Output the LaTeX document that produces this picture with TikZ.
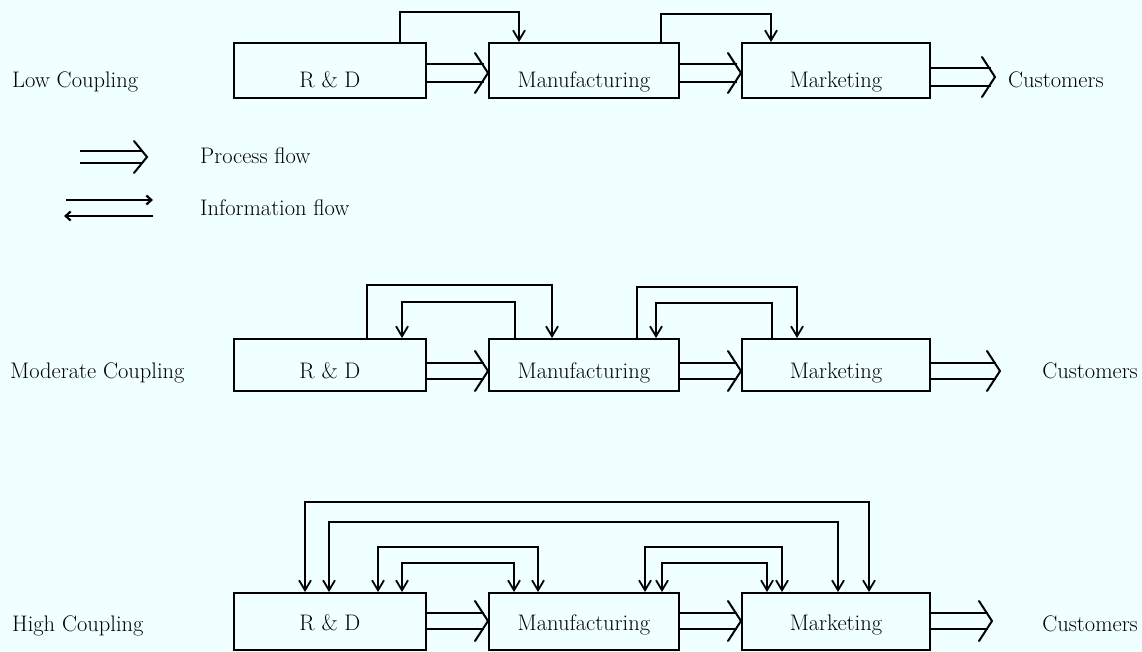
\documentclass[tikz,border=0pt]{standalone}
\usetikzlibrary{arrows.meta}
\definecolor{bg}{RGB}{240,255,255}
% process flow: two parallel lines and one straight chevron
\newcommand{\pflow}[4]{%
  \draw[pline] ([yshift=#3]#1) -- ([xshift=-4pt,yshift=#3]#2);
  \draw[pline] ([yshift=-#3]#1) -- ([xshift=-4pt,yshift=-#3]#2);
  \draw[chev] ([xshift=-13pt,yshift=#4]#2) -- (#2) -- ([xshift=-13pt,yshift=-#4]#2);}
\begin{document}
\begin{tikzpicture}[x=1pt,y=-1pt,
  txt/.style={font=\fontsize{22.5}{27}\selectfont, inner sep=0pt},
  lbl/.style={txt, anchor=base west},
  lblr/.style={txt, anchor=base east},
  box/.style={txt, draw, line width=1.8pt, anchor=north west, text depth=0pt},
  rowA/.style={box, minimum height=55pt, text height=35pt},
  rowB/.style={box, minimum height=52pt, text height=28pt},
  rowC/.style={box, minimum height=57pt, text height=19pt},
  wR/.style={minimum width=192pt},
  wF/.style={minimum width=190pt},
  wK/.style={minimum width=188pt},
  pline/.style={line width=2.4pt},
  chev/.style={line width=2pt, line cap=round, line join=miter},
  info/.style={line width=1.8pt, -{Straight Barb[length=10pt,width=12pt]}},
  infob/.style={line width=1.8pt, {Straight Barb[length=10pt,width=12pt]}-{Straight Barb[length=10pt,width=12pt]}},
  leg/.style={line width=2.2pt, -{Straight Barb[length=5pt,width=9pt]}}
]
\fill[bg] (0,0) rectangle (1142,652);
\useasboundingbox (0,0) rectangle (1142,652);

% ---------- Row 1: Low Coupling ----------
\node[lbl] (lc) at (12,88) {Low Coupling};
\node[rowA,wR] (rd1) at (233,42) {R \& D};
\node[rowA,wF] (mf1) at (488,42) {Manufacturing};
\node[rowA,wK] (mk1) at (741,42) {Marketing};
\node[lbl] (cu1) at (1008,88) {Customers};
\coordinate (a1) at (rd1.east |- 0,73);
\coordinate (b1) at (mf1.west |- 0,73);
\coordinate (c1) at (mf1.east |- 0,73);
\coordinate (d1) at (mk1.west |- 0,73);
\coordinate (f1) at (mk1.east |- 0,77);
\coordinate (e1) at (995,77);
\pflow{a1}{b1}{9pt}{20pt}
\pflow{c1}{d1}{9pt}{20pt}
\pflow{f1}{e1}{9pt}{20pt}
\draw[info] (rd1.north -| 400,0) |- (519,12) -- (mf1.north -| 519,0);
\draw[info] (mf1.north -| 661,0) |- (771,14) -- (mk1.north -| 771,0);

% ---------- Legend ----------
\coordinate (p1) at (80,157);
\coordinate (p2) at (147,157);
\pflow{p1}{p2}{6pt}{16pt}
\node[lbl] (pft) at (200,164) {Process flow};
\coordinate (i1) at (66,200);
\coordinate (i2) at (153,200);
\coordinate (i3) at (153,216);
\coordinate (i4) at (64,216);
\draw[leg] (i1) -- (i2);
\draw[leg] (i3) -- (i4);
\node[lbl] (ift) at (200,216) {Information flow};

% ---------- Row 2: Moderate Coupling ----------
\node[lbl] (mc) at (10,378) {Moderate Coupling};
\node[rowB,wR] (rd2) at (233,338) {R \& D};
\node[rowB,wF] (mf2) at (488,338) {Manufacturing};
\node[rowB,wK] (mk2) at (741,338) {Marketing};
\node[lblr] (cu2) at (1138,378) {Customers};
\coordinate (a2) at (rd2.east |- 0,371);
\coordinate (b2) at (mf2.west |- 0,371);
\coordinate (c2) at (mf2.east |- 0,371);
\coordinate (d2) at (mk2.west |- 0,371);
\coordinate (f2) at (mk2.east |- 0,371);
\coordinate (e2) at (1000,371);
\pflow{a2}{b2}{8pt}{20pt}
\pflow{c2}{d2}{8pt}{20pt}
\pflow{f2}{e2}{8pt}{20pt}
\draw[info] (rd2.north -| 367,0) |- (552,285) -- (mf2.north -| 552,0);
\draw[info] (mf2.north -| 515,0) |- (402,302) -- (rd2.north -| 402,0);
\draw[info] (mf2.north -| 637,0) |- (797,287) -- (mk2.north -| 797,0);
\draw[info] (mk2.north -| 772,0) |- (656,303) -- (mf2.north -| 656,0);

% ---------- Row 3: High Coupling ----------
\node[lbl] (hc) at (12,631) {High Coupling};
\node[rowC,wR] (rd3) at (233,592) {R \& D};
\node[rowC,wF] (mf3) at (488,592) {Manufacturing};
\node[rowC,wK] (mk3) at (741,592) {Marketing};
\node[lblr] (cu3) at (1138,631) {Customers};
\coordinate (a3) at (rd3.east |- 0,621);
\coordinate (b3) at (mf3.west |- 0,621);
\coordinate (c3) at (mf3.east |- 0,621);
\coordinate (d3) at (mk3.west |- 0,621);
\coordinate (f3) at (mk3.east |- 0,621);
\coordinate (e3) at (992,621);
\pflow{a3}{b3}{8pt}{20pt}
\pflow{c3}{d3}{8pt}{20pt}
\pflow{f3}{e3}{8pt}{20pt}
\draw[infob] (rd3.north -| 305,0) |- (869,502) -- (mk3.north -| 869,0);
\draw[infob] (rd3.north -| 329,0) |- (838,522) -- (mk3.north -| 838,0);
\draw[infob] (rd3.north -| 378,0) |- (538,547) -- (mf3.north -| 538,0);
\draw[infob] (rd3.north -| 402,0) |- (514,563) -- (mf3.north -| 514,0);
\draw[infob] (mf3.north -| 645,0) |- (782,547) -- (mk3.north -| 782,0);
\draw[infob] (mf3.north -| 662,0) |- (767,563) -- (mk3.north -| 767,0);
\end{tikzpicture}
\end{document}
